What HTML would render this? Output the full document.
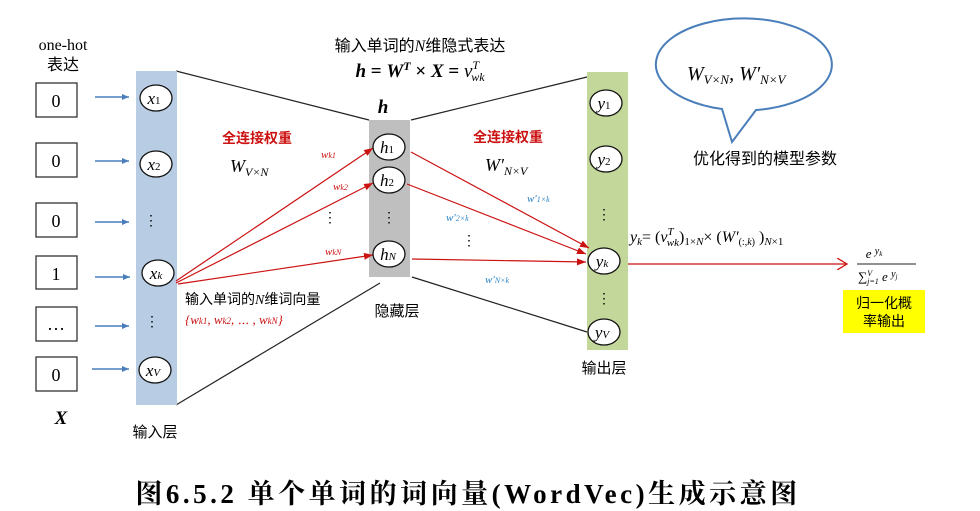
<!DOCTYPE html>
<html><head><meta charset="utf-8">
<style>
html,body{margin:0;padding:0;background:#fff;}
svg{display:block;}
text{font-family:"Liberation Serif","Noto Serif CJK SC",serif;}
.cn{font-family:"Liberation Sans","Noto Sans CJK SC",sans-serif;}
.m{font-family:"Liberation Serif","Noto Serif CJK SC",serif;font-style:italic;}
</style></head><body>
<svg width="980" height="511" viewBox="0 0 980 511" xmlns="http://www.w3.org/2000/svg">
<defs>
<marker id="ab" markerWidth="8" markerHeight="8" refX="7" refY="4" orient="auto" markerUnits="userSpaceOnUse"><path d="M0,1 L7,4 L0,7 Z" fill="#4a7ebb"/></marker>
<marker id="ar" markerWidth="10" markerHeight="10" refX="9" refY="5" orient="auto" markerUnits="userSpaceOnUse"><path d="M0,1.5 L9,5 L0,8.5 Z" fill="#cc1111"/></marker>
<marker id="ao" markerWidth="12" markerHeight="12" refX="10" refY="6" orient="auto" markerUnits="userSpaceOnUse"><path d="M0,0 L10,6 L0,12" fill="none" stroke="#cc1111" stroke-width="1.3"/></marker>
</defs>

<text x="63" y="50" font-size="16" text-anchor="middle">one-hot</text>
<text x="63" y="70" font-size="16" text-anchor="middle" class="cn">表达</text>
<g fill="#fff" stroke="#333" stroke-width="1.3">
<rect x="36" y="83" width="41" height="34"/><rect x="36" y="143" width="41" height="34"/>
<rect x="36" y="203" width="41" height="34"/><rect x="36" y="256" width="41" height="33"/>
<rect x="36" y="307" width="41" height="34"/><rect x="36" y="357" width="41" height="34"/>
</g>
<g font-size="18" text-anchor="middle">
<text x="56" y="107">0</text><text x="56" y="167">0</text><text x="56" y="227">0</text>
<text x="56" y="280">1</text><text x="56" y="330">…</text><text x="56" y="381">0</text>
</g>
<g stroke="#4a7ebb" stroke-width="1.6" marker-end="url(#ab)">
<line x1="95" y1="97" x2="129" y2="97"/><line x1="95" y1="161" x2="129" y2="161"/>
<line x1="95" y1="222" x2="129" y2="222"/><line x1="95" y1="277" x2="130" y2="277"/>
<line x1="95" y1="326" x2="129" y2="326"/><line x1="92" y1="369" x2="129" y2="369"/>
</g>
<text x="61" y="424" font-size="19" font-weight="bold" font-style="italic" text-anchor="middle">X</text>

<g stroke="#222" stroke-width="1.2" fill="none">
<line x1="176" y1="71" x2="369" y2="120"/>
<line x1="176" y1="405" x2="380" y2="283"/>
<line x1="411" y1="120" x2="587" y2="77"/>
<line x1="412" y1="277" x2="587" y2="332"/>
</g>

<rect x="136" y="71" width="41" height="334" fill="#b8cce4"/>
<rect x="369" y="120" width="41" height="157" fill="#bfbfbf"/>
<rect x="587" y="72" width="41" height="278" fill="#c4d79b"/>

<g stroke="#cc1111" stroke-width="1.2" marker-end="url(#ar)">
<line x1="176" y1="281" x2="373" y2="148"/>
<line x1="176" y1="283" x2="373" y2="183"/>
<line x1="178" y1="284" x2="373" y2="255"/>
<line x1="411" y1="152" x2="589" y2="248"/>
<line x1="407" y1="184" x2="586" y2="254"/>
<line x1="412" y1="259" x2="586" y2="262"/>
</g>
<line x1="628" y1="264" x2="847" y2="264" stroke="#cc1111" stroke-width="1.2" marker-end="url(#ao)"/>

<g fill="#fff" stroke="#111" stroke-width="1.3">
<ellipse cx="156" cy="98" rx="16" ry="13"/><ellipse cx="156" cy="164" rx="16" ry="13"/>
<ellipse cx="158" cy="273" rx="16" ry="13"/><ellipse cx="155" cy="370" rx="16" ry="13"/>
<ellipse cx="389" cy="147" rx="16" ry="13"/><ellipse cx="389" cy="180" rx="16" ry="13"/>
<ellipse cx="389" cy="254" rx="16" ry="13"/>
<ellipse cx="606" cy="103" rx="16" ry="13"/><ellipse cx="606" cy="159" rx="16" ry="13"/>
<ellipse cx="604" cy="261" rx="16" ry="13"/><ellipse cx="604" cy="332" rx="16" ry="13"/>
</g>
<g font-size="17" class="m" text-anchor="middle">
<text x="154" y="104" class="m">x<tspan font-size="11" font-style="normal">1</tspan></text>
<text x="154" y="170" class="m">x<tspan font-size="11" font-style="normal">2</tspan></text>
<text x="156" y="279" class="m">x<tspan font-size="11">k</tspan></text>
<text x="153" y="376" class="m">x<tspan font-size="11">V</tspan></text>
<text x="387" y="153" class="m">h<tspan font-size="11" font-style="normal">1</tspan></text>
<text x="387" y="186" class="m">h<tspan font-size="11" font-style="normal">2</tspan></text>
<text x="388" y="260" class="m">h<tspan font-size="11">N</tspan></text>
<text x="604" y="109" class="m">y<tspan font-size="11" font-style="normal">1</tspan></text>
<text x="604" y="165" class="m">y<tspan font-size="11" font-style="normal">2</tspan></text>
<text x="602" y="267" class="m">y<tspan font-size="11">k</tspan></text>
<text x="602" y="338" class="m">y<tspan font-size="11">V</tspan></text>
</g>
<g font-size="14" text-anchor="middle">
<text x="151" y="225">⋮</text><text x="152" y="326">⋮</text>
<text x="389" y="222">⋮</text><text x="330" y="222">⋮</text>
<text x="604" y="219">⋮</text><text x="604" y="303">⋮</text>
<text x="469" y="245">⋮</text>
</g>

<text x="420" y="51" font-size="16" text-anchor="middle" class="cn">输入单词的<tspan class="m">N</tspan>维隐式表达</text>
<text x="420" y="77" font-size="19" text-anchor="middle" font-weight="bold"><tspan font-style="italic">h</tspan> = <tspan font-style="italic">W<tspan font-size="12" dy="-7">T</tspan></tspan><tspan dy="7"> × </tspan><tspan font-style="italic">X</tspan> = <tspan font-style="italic" font-weight="normal">v<tspan font-size="12" dy="-8">T</tspan><tspan font-size="12" dx="-7" dy="12">wk</tspan></tspan></text>
<text x="383" y="113" font-size="19" font-weight="bold" font-style="italic" text-anchor="middle">h</text>

<text x="257" y="143" font-size="14" font-weight="bold" fill="#cc1111" text-anchor="middle" class="cn">全连接权重</text>
<text x="230" y="172" font-size="18" class="m">W<tspan font-size="12" dy="4">V×N</tspan></text>
<text x="508" y="142" font-size="14" font-weight="bold" fill="#cc1111" text-anchor="middle" class="cn">全连接权重</text>
<text x="485" y="171" font-size="18" class="m">W′<tspan font-size="12" dy="4">N×V</tspan></text>

<g fill="#cc1111" font-size="11" class="m">
<text x="321" y="158" class="m">w<tspan font-size="8">k1</tspan></text>
<text x="333" y="190" class="m">w<tspan font-size="8">k2</tspan></text>
<text x="325" y="255" class="m">w<tspan font-size="8">kN</tspan></text>
</g>
<g fill="#2e86c9" font-size="11" class="m">
<text x="527" y="202" class="m">w′<tspan font-size="8">1×k</tspan></text>
<text x="446" y="221" class="m">w′<tspan font-size="8">2×k</tspan></text>
<text x="485" y="283" class="m">w′<tspan font-size="8">N×k</tspan></text>
</g>

<text x="185" y="304" font-size="14" class="cn">输入单词的<tspan class="m">N</tspan>维词向量</text>
<text x="185" y="324" font-size="13" fill="#cc1111" class="m">{w<tspan font-size="9">k1</tspan>, w<tspan font-size="9">k2</tspan>, ⋯ , w<tspan font-size="9">kN</tspan>}</text>
<text x="397" y="316" font-size="15" text-anchor="middle" class="cn">隐藏层</text>
<text x="155" y="437" font-size="15" text-anchor="middle" class="cn">输入层</text>
<text x="604" y="373" font-size="15" text-anchor="middle" class="cn">输出层</text>

<path d="M722,109 A88,46 0 1 1 756,110 L732,142 Z" fill="#fff" stroke="#4a7ebb" stroke-width="2" stroke-linejoin="miter"/>
<text x="687" y="80" font-size="20" class="m">W<tspan font-size="13" dy="4">V×N</tspan><tspan dy="-4">, W′</tspan><tspan font-size="13" dy="4">N×V</tspan></text>
<text x="765" y="164" font-size="16" text-anchor="middle" class="cn">优化得到的模型参数</text>

<text x="630" y="242" font-size="16" class="m">y<tspan font-size="11" dy="3">k</tspan><tspan dy="-3" font-style="normal">= (</tspan>v<tspan font-size="11" dy="-7">T</tspan><tspan font-size="11" dx="-6" dy="11">wk</tspan><tspan font-size="16" dy="-4" font-style="normal">)</tspan><tspan font-size="11" dy="3" font-style="normal">1×</tspan><tspan font-size="11">N</tspan><tspan dy="-3" font-style="normal">× (</tspan>W′<tspan font-size="10" dy="3" font-style="normal">(:,</tspan><tspan font-size="10">k</tspan><tspan font-size="10" font-style="normal">)</tspan><tspan dy="-3" font-style="normal"> )</tspan><tspan font-size="11" dy="3">N</tspan><tspan font-size="11" font-style="normal">×1</tspan></text>
<text x="874" y="258" font-size="13" text-anchor="middle" class="m">e <tspan font-size="10" dy="-4">y</tspan><tspan font-size="7" dy="2">k</tspan></text>
<line x1="857" y1="264" x2="916" y2="264" stroke="#222" stroke-width="1"/>
<text x="858" y="281" font-size="13" class="m"><tspan font-style="normal">∑</tspan><tspan font-size="8" dy="-5">V</tspan><tspan font-size="8" dx="-5" dy="8">j=1</tspan><tspan dy="-3"> e </tspan><tspan font-size="10" dy="-4">y</tspan><tspan font-size="7" dy="2">j</tspan></text>
<rect x="843" y="290" width="82" height="43" fill="#ffff00"/>
<text x="884" y="308" font-size="14" text-anchor="middle" class="cn">归一化概</text>
<text x="884" y="326" font-size="14" text-anchor="middle" class="cn">率输出</text>

<text x="468" y="503" font-size="27" font-weight="bold" text-anchor="middle" letter-spacing="3.5">图6.5.2 单个单词的词向量(WordVec)生成示意图</text>
</svg>
</body></html>
